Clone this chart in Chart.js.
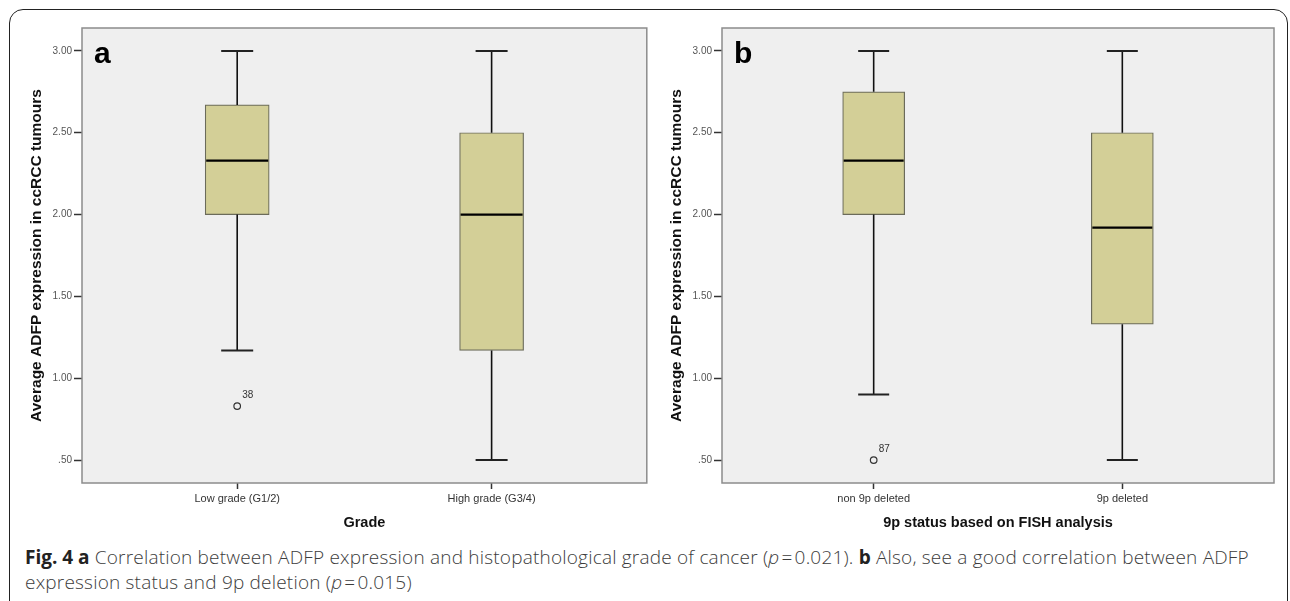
<!DOCTYPE html>
<html><head><meta charset="utf-8">
<script src="https://cdn.jsdelivr.net/npm/chart.js@4.4.0/dist/chart.umd.min.js"></script>
<style>
html,body{margin:0;padding:0;background:#fff;width:1290px;height:601px;overflow:hidden;}
#frame{position:absolute;left:9px;top:9px;width:1279px;height:700px;border:1.5px solid #222;border-radius:14px;box-sizing:border-box;}
#ca{position:absolute;left:12px;top:12px;}
#cb{position:absolute;left:652px;top:12px;}
#caption{position:absolute;left:25px;top:545px;font-family:'Open Sans','Noto Sans',sans-serif;font-weight:300;font-size:19px;letter-spacing:0.2px;line-height:25px;color:#3c3c3c;white-space:nowrap;}
#caption b{font-weight:700;color:#222;letter-spacing:0;}
</style></head><body>
<div id="frame"></div>
<canvas id="ca" width="640" height="525"></canvas>
<canvas id="cb" width="635" height="525"></canvas>
<div id="caption"><b>Fig. 4 a</b> Correlation between ADFP expression and histopathological grade of cancer (<i>p</i>&#8202;=&#8202;0.021). <b>b</b> Also, see a good correlation between ADFP<br>expression status and 9p deletion (<i>p</i>&#8202;=&#8202;0.015)</div>
<script>
// ---- data ----
const gradeCategories = ['Low grade (G1/2)', 'High grade (G3/4)'];
const gradeLowerWhisker = [1.17, 0.50];
const gradeQ1 = [2.00, 1.17];
const gradeMedian = [2.33, 2.00];
const gradeQ3 = [2.67, 2.50];
const gradeUpperWhisker = [3.00, 3.00];
const gradeOutlierCategory = [0];
const gradeOutlierValue = [0.83];
const gradeOutlierLabel = ['38'];

const fishCategories = ['non 9p deleted', '9p deleted'];
const fishLowerWhisker = [0.90, 0.50];
const fishQ1 = [2.00, 1.33];
const fishMedian = [2.33, 1.92];
const fishQ3 = [2.75, 2.50];
const fishUpperWhisker = [3.00, 3.00];
const fishOutlierCategory = [0];
const fishOutlierValue = [0.50];
const fishOutlierLabel = ['87'];

const yTickValues = [3.00, 2.50, 2.00, 1.50, 1.00, 0.50];
const yAxisTitle = 'Average ADFP expression in ccRCC tumours';
const gradeAxisTitle = 'Grade';
const fishAxisTitle = '9p status based on FISH analysis';

// ---- plugin for SPSS-style box plot extras ----
const boxExtras = {
  id: 'boxExtras',
  beforeDraw(chart, args, o) {
    const {ctx, chartArea: a} = chart;
    ctx.save();
    ctx.fillStyle = '#efefef';
    ctx.fillRect(a.left, a.top, a.right - a.left, a.bottom - a.top);
    ctx.restore();
  },
  afterDatasetsDraw(chart, args, o) {
    const {ctx, chartArea: a} = chart;
    const xs = chart.scales.x, ys = chart.scales.y;
    ctx.save();
    ctx.strokeStyle = '#8c8c8c';
    ctx.lineWidth = 1.5;
    ctx.strokeRect(a.left, a.top, a.right - a.left, a.bottom - a.top);
    o.median.forEach((m, i) => {
      const x = xs.getPixelForValue(i + 1);
      const half = o.boxWidth / 2, cap = o.boxWidth / 4;
      ctx.strokeStyle = '#111';
      ctx.lineWidth = 1.6;
      ctx.beginPath();
      ctx.moveTo(x, ys.getPixelForValue(o.q3[i]));
      ctx.lineTo(x, ys.getPixelForValue(o.upper[i]));
      ctx.moveTo(x, ys.getPixelForValue(o.q1[i]));
      ctx.lineTo(x, ys.getPixelForValue(o.lower[i]));
      ctx.stroke();
      ctx.lineWidth = 2;
      ctx.strokeStyle = '#222';
      ctx.beginPath();
      [o.upper[i], o.lower[i]].forEach(v => {
        const y = ys.getPixelForValue(v);
        ctx.moveTo(x - cap, y); ctx.lineTo(x + cap, y);
      });
      ctx.stroke();
      ctx.strokeStyle = '#000';
      ctx.lineWidth = 2.2;
      ctx.beginPath();
      const ym = ys.getPixelForValue(m);
      ctx.moveTo(x - half + 1, ym); ctx.lineTo(x + half - 1, ym);
      ctx.stroke();
    });
    ctx.fillStyle = '#333';
    ctx.font = '10px "Liberation Sans", Arial, sans-serif';
    ctx.textAlign = 'left';
    ctx.textBaseline = 'middle';
    o.outCat.forEach((c, i) => {
      const x = xs.getPixelForValue(c + 1), y = ys.getPixelForValue(o.outVal[i]);
      ctx.fillText(o.outLabel[i], x + 5, y - 10.5);
    });
    ctx.fillStyle = '#000';
    ctx.font = 'bold 30px "Liberation Sans", Arial, sans-serif';
    ctx.textBaseline = 'alphabetic';
    ctx.fillText(o.letter, a.left + 12, a.top + 35);
    ctx.restore();
  }
};

function makeChart(id, cats, lower, q1, med, q3, upper, outCat, outVal, outLabel, xTitle, letter, boxWidth, padRight) {
  return new Chart(document.getElementById(id), {
    type: 'bar',
    data: {
      datasets: [
        {
          type: 'bar',
          data: cats.map((c, i) => ({x: i + 1, y: [q1[i], q3[i]]})),
          backgroundColor: '#d3cf97',
          borderColor: '#6b6b5a',
          borderWidth: 1.2,
          borderSkipped: false,
          barThickness: boxWidth,
          grouped: false
        },
        {
          type: 'scatter',
          data: outCat.map((c, i) => ({x: c + 1, y: outVal[i]})),
          pointStyle: 'circle',
          pointRadius: 3.3,
          borderColor: '#333',
          borderWidth: 1.2,
          backgroundColor: 'rgba(0,0,0,0)'
        }
      ]
    },
    options: {
      responsive: false,
      animation: false,
      layout: {padding: {left: 0, right: padRight, top: 16, bottom: 0}},
      plugins: {
        legend: {display: false},
        tooltip: {enabled: false},
        boxExtras: {median: med, q1: q1, q3: q3, lower: lower, upper: upper,
                    outCat: outCat, outVal: outVal, outLabel: outLabel, letter: letter, boxWidth: boxWidth}
      },
      scales: {
        x: {
          type: 'linear',
          offset: false,
          min: 0.39, max: 2.61,
          afterBuildTicks: s => { s.ticks = cats.map((c, i) => ({value: i + 1})); },
          afterFit: s => { s.height = 54; },
          ticks: {
            autoSkip: false, maxRotation: 0, padding: 3,
            color: '#333',
            font: {family: '"Liberation Sans", Arial, sans-serif', size: 11},
            callback: v => cats[Math.round(v) - 1]
          },
          grid: {offset: false, drawOnChartArea: false, drawTicks: true, tickLength: 6, tickColor: '#333', tickWidth: 1.5},
          border: {display: false},
          title: {display: true, text: xTitle, color: '#111',
                  font: {family: '"Liberation Sans", Arial, sans-serif', size: 14.5, weight: 'bold'},
                  padding: {top: 0, bottom: 5}}
        },
        y: {
          min: 0.36, max: 3.14,
          afterBuildTicks: s => { s.ticks = yTickValues.map(v => ({value: v})); },
          afterFit: s => { s.width = 70; },
          ticks: {
            padding: 2, color: '#555',
            font: {family: '"Liberation Sans", Arial, sans-serif', size: 10},
            callback: v => v.toFixed(2).replace(/^0/, '')
          },
          grid: {drawOnChartArea: false, drawTicks: true, tickLength: 8, tickColor: '#333', tickWidth: 1.5},
          border: {display: false},
          title: {display: true, text: yAxisTitle, color: '#111',
                  font: {family: '"Liberation Sans", Arial, sans-serif', size: 15.5, weight: 'bold'},
                  padding: {top: 15, bottom: 0}}
        }
      }
    },
    plugins: [boxExtras]
  });
}

makeChart('ca', gradeCategories, gradeLowerWhisker, gradeQ1, gradeMedian, gradeQ3, gradeUpperWhisker,
  gradeOutlierCategory, gradeOutlierValue, gradeOutlierLabel, gradeAxisTitle, 'a', 64, 5);
makeChart('cb', fishCategories, fishLowerWhisker, fishQ1, fishMedian, fishQ3, fishUpperWhisker,
  fishOutlierCategory, fishOutlierValue, fishOutlierLabel, fishAxisTitle, 'b', 62, 13);
</script>
</body></html>
